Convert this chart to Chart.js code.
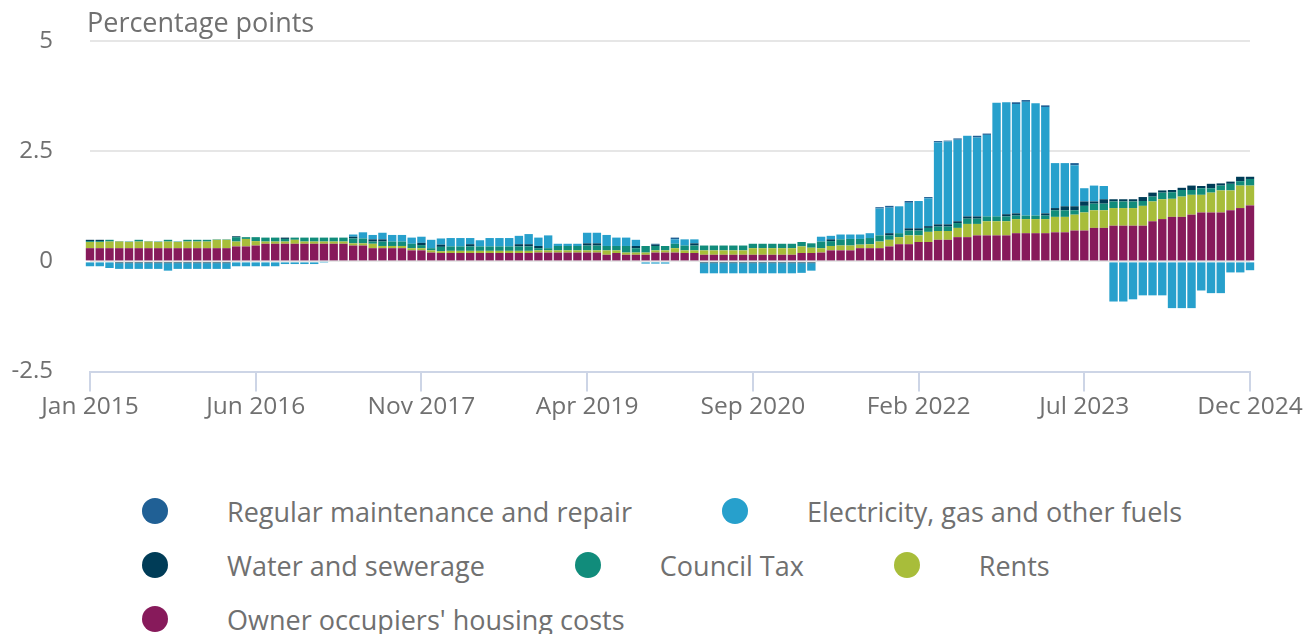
<!DOCTYPE html>
<html>
<head>
<meta charset="utf-8">
<script src="https://cdn.jsdelivr.net/npm/chart.js@4.4.1/dist/chart.umd.min.js"></script>
<style>
  body { margin: 0; background: #fff; font-family: 'Open Sans', sans-serif; }
  #wrap { position: relative; width: 1306px; height: 634px; overflow: hidden; }
  #chart { position: absolute; left: 0; top: 0; }
  #title { position: absolute; left: 87px; top: 4px; font-size: 27px; color: #707070; line-height: 36px; }
  #legend { position: absolute; left: 142px; top: 484px; width: 1164px; display: flex; flex-wrap: wrap; }
  .item { display: flex; align-items: center; height: 54px; margin-right: 90px; font-size: 27px; color: #707070; white-space: nowrap; }
  .dot { width: 26px; height: 26px; border-radius: 50%; margin-right: 59px; flex: none; }
</style>
</head>
<body>
<div id="wrap">
  <canvas id="chart" width="1306" height="440"></canvas>
  <div id="title">Percentage points</div>
  <div id="legend"></div>
</div>
<script>
// monthly, Jan 2015 .. Dec 2024
const years = [2015, 2016, 2017, 2018, 2019, 2020, 2021, 2022, 2023, 2024];
const months = ['Jan', 'Feb', 'Mar', 'Apr', 'May', 'Jun', 'Jul', 'Aug', 'Sep', 'Oct', 'Nov', 'Dec'];
const labels = [];
years.forEach(y => months.forEach(m => labels.push(m + ' ' + y)));

const maintenance = [
  0, 0, 0, 0, 0, 0, 0, 0, 0, 0, 0, 0,
  0, 0, 0, 0, 0, 0, 0, 0, 0, 0, 0, 0,
  0, 0, 0, 0, 0, 0, 0, 0, 0, 0, 0, 0,
  0, 0, 0, 0, 0, 0, 0, 0, 0, 0, 0, 0,
  0, 0, 0, 0, 0, 0, 0, 0, 0, 0, 0.02, 0,
  0.04, 0, 0, 0, 0, 0, 0, 0, 0, 0, 0, 0,
  0, 0, 0, 0, 0, 0, 0, 0, 0, 0.03, 0.04, 0,
  0.04, 0, 0.03, 0.03, 0.02, 0.03, 0, 0.04, 0.03, 0, 0, 0.04,
  0.04, 0, 0.04, 0, 0, 0.05, 0, 0, 0, 0, 0, 0,
  0, 0, 0, 0, 0, 0, 0, 0, 0, 0, 0, 0
];
const electricity = [
  -0.11, -0.11, -0.15, -0.13, -0.13, -0.13, -0.13, -0.13, -0.17, -0.13, -0.13, -0.13,
  -0.13, -0.13, -0.13, -0.11, -0.11, -0.11, -0.11, -0.11, -0.06, -0.06, -0.06, -0.06,
  -0.01, 0, 0, 0.05, 0.14, 0.10, 0.15, 0.15, 0.15, 0.14, 0.14, 0.19,
  0.14, 0.19, 0.19, 0.14, 0.14, 0.19, 0.19, 0.19, 0.19, 0.23, 0.19, 0.29,
  0.05, 0.05, 0.05, 0.24, 0.24, 0.25, 0.19, 0.19, 0.14, -0.05, -0.05, -0.05,
  0.10, 0.14, 0.09, -0.23, -0.23, -0.23, -0.23, -0.23, -0.23, -0.23, -0.23, -0.23,
  -0.23, -0.22, -0.17, 0.11, 0.08, 0.11, 0.10, 0.10, 0.11, 0.61, 0.58, 0.61,
  0.58, 0.62, 0.63, 1.86, 1.88, 1.85, 1.83, 1.79, 1.85, 2.58, 2.54, 2.48,
  2.58, 2.55, 2.41, 1.02, 0.98, 0.93, 0.30, 0.36, 0.30, -0.91, -0.91, -0.86,
  -0.77, -0.77, -0.77, -1.06, -1.06, -1.06, -0.66, -0.72, -0.72, -0.25, -0.25, -0.20
];
const water = [
  0.03, 0.03, 0, -0.04, -0.04, -0.04, -0.04, -0.04, -0.04, -0.04, -0.04, -0.04,
  -0.04, -0.04, -0.04, 0.02, 0, 0, 0, 0, 0.03, 0, 0, 0,
  0, 0, 0, 0.04, 0, 0.05, 0.05, 0, 0, 0, 0.05, 0,
  0.05, 0, 0, 0.05, 0, 0, 0, 0, 0.05, 0.05, 0.05, 0,
  0, 0, 0, 0.05, 0.05, 0, 0, 0, 0.05, 0, 0.03, 0,
  0, 0, 0.05, -0.04, -0.04, -0.04, -0.04, -0.04, -0.04, -0.04, -0.04, -0.04,
  -0.04, -0.04, -0.04, 0, 0.04, 0, 0, 0, 0, 0, 0.05, 0,
  0.05, 0.05, 0.04, 0.05, 0.05, 0.04, 0.05, 0.05, 0, 0, 0.05, 0.05,
  0, 0, 0.05, 0.05, 0.09, 0.09, 0.10, 0.05, 0.10, 0.05, 0.05, 0.05,
  0.09, 0.09, 0.05, 0.05, 0.05, 0.10, 0.05, 0.10, 0.05, 0.05, 0.10, 0.05
];
const councilTax = [
  0.02, 0.02, 0.04, 0.01, 0.01, 0.04, 0.01, 0.01, 0.04, 0.01, 0.04, 0.04,
  0.04, 0.01, 0.01, 0.10, 0.04, 0.09, 0.09, 0.09, 0.06, 0.05, 0.09, 0.09,
  0.09, 0.09, 0.09, 0.11, 0.11, 0.05, 0.10, 0.10, 0.10, 0.10, 0.07, 0.05,
  0.10, 0.10, 0.10, 0.10, 0.10, 0.10, 0.10, 0.10, 0.10, 0.10, 0.05, 0.05,
  0.10, 0.10, 0.10, 0.11, 0.11, 0.10, 0.10, 0.15, 0.10, 0.15, 0.10, 0.10,
  0.10, 0.11, 0.11, 0.11, 0.11, 0.11, 0.11, 0.11, 0.10, 0.10, 0.10, 0.10,
  0.10, 0.10, 0.10, 0.15, 0.11, 0.14, 0.15, 0.13, 0.14, 0.14, 0.10, 0.09,
  0.11, 0.11, 0.09, 0.10, 0.10, 0.11, 0.12, 0.12, 0.11, 0.11, 0.11, 0.08,
  0.08, 0.08, 0.08, 0.15, 0.15, 0.10, 0.15, 0.15, 0.15, 0.15, 0.15, 0.15,
  0.11, 0.11, 0.15, 0.15, 0.15, 0.11, 0.15, 0.10, 0.11, 0.15, 0.10, 0.15
];
const rents = [
  0.14, 0.14, 0.15, 0.15, 0.14, 0.15, 0.15, 0.14, 0.15, 0.14, 0.15, 0.15,
  0.15, 0.19, 0.19, 0.11, 0.17, 0.10, 0.05, 0.05, 0.05, 0.09, 0.05, 0.05,
  0.05, 0.05, 0.05, 0.05, 0.05, 0.10, 0.05, 0.05, 0.05, 0.05, 0.05, 0.05,
  0.04, 0.05, 0.05, 0.05, 0.05, 0.05, 0.05, 0.05, 0.05, 0.05, 0.05, 0.05,
  0.05, 0.05, 0.05, 0.05, 0.05, 0.10, 0.06, 0.05, 0.05, 0.05, 0.05, 0.05,
  0.10, 0.06, 0.06, 0.10, 0.10, 0.10, 0.10, 0.10, 0.15, 0.15, 0.15, 0.15,
  0.15, 0.15, 0.12, 0.10, 0.10, 0.11, 0.11, 0.08, 0.09, 0.15, 0.15, 0.16,
  0.20, 0.15, 0.23, 0.20, 0.20, 0.21, 0.30, 0.26, 0.32, 0.32, 0.32, 0.32,
  0.32, 0.32, 0.32, 0.35, 0.35, 0.36, 0.41, 0.40, 0.40, 0.40, 0.40, 0.40,
  0.45, 0.45, 0.45, 0.41, 0.46, 0.45, 0.40, 0.45, 0.50, 0.45, 0.51, 0.45
];
const ownerOccupiers = [
  0.30, 0.30, 0.30, 0.30, 0.30, 0.30, 0.30, 0.30, 0.30, 0.30, 0.30, 0.30,
  0.30, 0.30, 0.30, 0.34, 0.34, 0.36, 0.40, 0.40, 0.40, 0.40, 0.40, 0.40,
  0.40, 0.40, 0.40, 0.36, 0.36, 0.30, 0.30, 0.30, 0.30, 0.25, 0.25, 0.20,
  0.19, 0.19, 0.19, 0.19, 0.19, 0.19, 0.19, 0.19, 0.19, 0.19, 0.20, 0.20,
  0.20, 0.20, 0.20, 0.20, 0.20, 0.15, 0.19, 0.15, 0.15, 0.15, 0.20, 0.20,
  0.20, 0.19, 0.19, 0.15, 0.15, 0.15, 0.15, 0.15, 0.15, 0.15, 0.15, 0.15,
  0.15, 0.19, 0.19, 0.20, 0.25, 0.25, 0.25, 0.30, 0.30, 0.30, 0.34, 0.39,
  0.39, 0.44, 0.44, 0.49, 0.49, 0.55, 0.55, 0.59, 0.59, 0.59, 0.59, 0.64,
  0.64, 0.64, 0.64, 0.66, 0.66, 0.70, 0.70, 0.76, 0.76, 0.81, 0.81, 0.81,
  0.81, 0.91, 0.96, 1.01, 1.01, 1.06, 1.11, 1.11, 1.11, 1.16, 1.21, 1.27
];

// legend order (top of stack first)
const series = [
  { name: 'Regular maintenance and repair', color: '#206095', data: maintenance },
  { name: 'Electricity, gas and other fuels', color: '#27a0cc', data: electricity },
  { name: 'Water and sewerage', color: '#003c57', data: water },
  { name: 'Council Tax', color: '#118c7b', data: councilTax },
  { name: 'Rents', color: '#a8bd3a', data: rents },
  { name: "Owner occupiers' housing costs", color: '#871a5b', data: ownerOccupiers },
];

const GREY = '#707070';
const AXIS = '#cdd5e6';
Chart.defaults.font.family = "'Open Sans', sans-serif";
Chart.defaults.color = GREY;

new Chart(document.getElementById('chart'), {
  type: 'bar',
  data: {
    labels,
    datasets: series.slice().reverse().map(s => ({
      label: s.name,
      data: s.data,
      backgroundColor: s.color,
      borderWidth: 0,
      barPercentage: 0.86,
      categoryPercentage: 1,
      clip: false,
    })),
  },
  options: {
    responsive: false,
    animation: false,
    layout: { padding: { left: 0, right: 56, top: 41, bottom: 17 } },
    plugins: { legend: { display: false }, tooltip: { enabled: false } },
    scales: {
      x: {
        stacked: true,
        offset: false,
        grid: { display: true, offset: false, drawOnChartArea: false, drawTicks: true, tickLength: 20, color: AXIS, tickColor: AXIS, lineWidth: 2 },
        border: { display: true, color: AXIS, width: 2 },
        ticks: { autoSkip: false, maxRotation: 0, padding: 1, font: { size: 24.5 }, color: GREY },
        afterBuildTicks: s => { s.ticks = s.ticks.filter(t => t.value % 17 === 0); },
      },
      y: {
        stacked: true,
        min: -2.5,
        max: 5,
        ticks: { stepSize: 2.5, padding: 37, font: { size: 24 }, color: GREY },
        grid: { drawTicks: false, lineWidth: 2, color: c => (c.tick && c.tick.value === -2.5) ? 'rgba(0,0,0,0)' : '#e6e6e6' },
        border: { display: false },
        afterFit: s => { s.width = 90; s.paddingTop = 0; s.paddingBottom = 0; },
      },
    },
  },
});

const legend = document.getElementById('legend');
series.forEach(s => {
  const item = document.createElement('div');
  item.className = 'item';
  const dot = document.createElement('span');
  dot.className = 'dot';
  dot.style.background = s.color;
  const txt = document.createElement('span');
  txt.textContent = s.name;
  item.appendChild(dot);
  item.appendChild(txt);
  legend.appendChild(item);
});
</script>
</body>
</html>
